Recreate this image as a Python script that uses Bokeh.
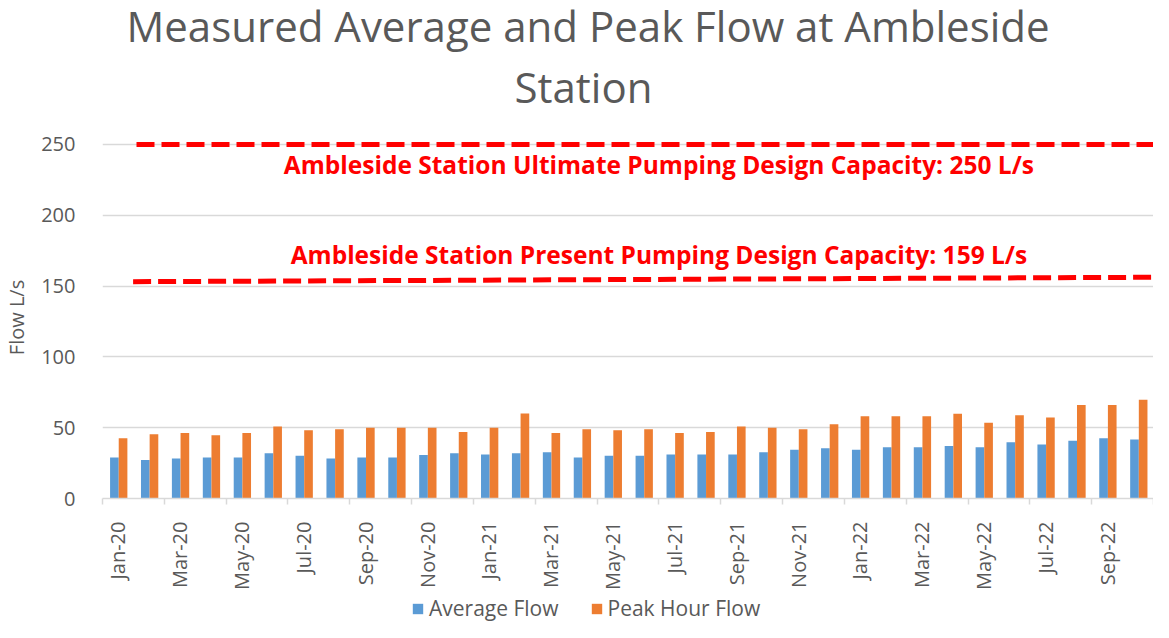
import math
from bokeh.plotting import figure
from bokeh.layouts import column
from bokeh.models import Range1d, FixedTicker, Legend, LegendItem, Label, Title
from bokeh.embed import file_html
from bokeh.resources import INLINE

months = ["Jan-20", "Feb-20", "Mar-20", "Apr-20", "May-20", "Jun-20", "Jul-20", "Aug-20",
          "Sep-20", "Oct-20", "Nov-20", "Dec-20", "Jan-21", "Feb-21", "Mar-21", "Apr-21",
          "May-21", "Jun-21", "Jul-21", "Aug-21", "Sep-21", "Oct-21", "Nov-21", "Dec-21",
          "Jan-22", "Feb-22", "Mar-22", "Apr-22", "May-22", "Jun-22", "Jul-22", "Aug-22",
          "Sep-22", "Oct-22"]
avg_flow = [28.9, 27.2, 28.2, 28.9, 28.9, 31.9, 30.1, 28.2, 28.9, 28.9, 30.8, 31.9,
            31.0, 31.9, 32.6, 28.9, 30.1, 30.1, 31.0, 31.0, 31.0, 32.6, 34.5, 35.5,
            34.5, 36.2, 36.2, 37.1, 36.2, 39.7, 38.1, 40.7, 42.6, 41.6]
peak_flow = [42.6, 45.4, 46.3, 44.7, 46.3, 50.8, 48.2, 48.9, 49.9, 49.9, 49.9, 47.0,
             49.9, 60.0, 46.3, 48.9, 48.2, 48.9, 46.3, 47.0, 50.8, 49.9, 48.9, 52.5,
             58.1, 58.1, 58.1, 59.8, 53.4, 58.8, 57.2, 66.1, 66.1, 69.7]

# capacity reference lines (x in month-index units)
ultimate_x = [0.6, 33.5]
ultimate_y = [250, 250]
present_x = [0.49, 33.5]
present_y = [153.1, 156.2]
ultimate_text = "Ambleside Station Ultimate Pumping Design Capacity: 250 L/s"
present_text = "Ambleside Station Present Pumping Design Capacity: 159 L/s"
title_lines = ["Measured Average and Peak Flow at Ambleside", "Station"]
series_names = ["Average Flow", "Peak Hour Flow"]
y_ticks = [0, 50, 100, 150, 200, 250]

FONT = "Open Sans"
GREY = "#595959"
BLUE = "#5B9BD5"
ORANGE = "#ED7D31"

n = len(months)
idx = list(range(n))

p = figure(width=1153, height=592, output_backend="svg", toolbar_location=None,
           x_range=Range1d(-0.5, n - 0.5), y_range=Range1d(0, 255.6), title=None,
           min_border_left=95, min_border_right=0, min_border_top=136, min_border_bottom=94)
p.outline_line_color = None
p.background_fill_color = "white"
p.border_fill_color = "white"

# title: second line closest to the frame, first line above it
for txt, off, stand in [(title_lines[1], 412, 43), (title_lines[0], 24, -39)]:
    p.add_layout(Title(text=txt, align="left", text_font=FONT, text_font_size="42px",
                       text_font_style="normal", text_color=GREY, offset=off,
                       standoff=stand), "above")

p.vbar(x=[i - 0.115 for i in idx], top=avg_flow, width=0.28,
       fill_color=BLUE, line_color=None)
p.vbar(x=[i + 0.165 for i in idx], top=peak_flow, width=0.28,
       fill_color=ORANGE, line_color=None)

p.line(ultimate_x, ultimate_y, line_color="#FF0000", line_width=5, line_dash="18 7")
p.line(present_x, present_y, line_color="#FF0000", line_width=5, line_dash="18 7")

for txt, yv in [(ultimate_text, 235.9), (present_text, 172.6)]:
    p.add_layout(Label(x=17.5, y=yv, text=txt, text_align="center", text_baseline="middle",
                       text_font=FONT, text_font_size="24.5px", text_font_style="bold",
                       text_color="#FF0000"))

# axes
p.yaxis.ticker = FixedTicker(ticks=y_ticks)
p.yaxis.axis_line_color = None
p.yaxis.major_tick_line_color = None
p.yaxis.minor_tick_line_color = None
p.yaxis.major_label_text_font = FONT
p.yaxis.major_label_text_font_size = "20px"
p.yaxis.major_label_text_color = GREY
p.yaxis.major_label_standoff = 21
p.yaxis.axis_label = "Flow L/s"
p.yaxis.axis_label_text_font = FONT
p.yaxis.axis_label_text_font_size = "20px"
p.yaxis.axis_label_text_font_style = "normal"
p.yaxis.axis_label_text_color = GREY
p.yaxis.axis_label_standoff = 8

p.ygrid.ticker = FixedTicker(ticks=y_ticks)
p.ygrid.grid_line_color = "#D9D9D9"
p.ygrid.grid_line_width = 1.5
p.xgrid.visible = False

p.xaxis.ticker = FixedTicker(ticks=list(range(0, n, 2)),
                             minor_ticks=[i - 0.5 for i in range(0, n + 1, 2)])
p.xaxis.major_label_overrides = {i: months[i] for i in range(0, n, 2)}
p.xaxis.major_label_orientation = math.pi / 2
p.xaxis.major_label_text_font = FONT
p.xaxis.major_label_text_font_size = "20px"
p.xaxis.major_label_text_color = GREY
p.xaxis.major_tick_line_color = None
p.xaxis.major_tick_out = 0
p.xaxis.major_tick_in = 0
p.xaxis.minor_tick_line_color = "#D9D9D9"
p.xaxis.minor_tick_out = 6
p.xaxis.minor_tick_in = 0
p.xaxis.minor_tick_line_width = 1.5
p.xaxis.axis_line_color = "#D9D9D9"
p.xaxis.axis_line_width = 1.5
p.xaxis.major_label_standoff = 17

# legend strip below the chart (zero-height swatch glyphs, only the legend shows)
leg = figure(width=1153, height=30, output_backend="svg", toolbar_location=None,
             x_range=Range1d(0, 1), y_range=Range1d(0, 1), min_border=0,
             x_axis_location=None, y_axis_location=None)
leg.grid.visible = False
leg.outline_line_color = None
leg.background_fill_color = "white"
leg.border_fill_color = "white"
la = leg.vbar(x=[0.5], top=[0], width=0.01, fill_color=BLUE, line_color=None)
lp = leg.vbar(x=[0.5], top=[0], width=0.01, fill_color=ORANGE, line_color=None)
legend = Legend(items=[LegendItem(label=series_names[0], renderers=[la]),
                       LegendItem(label=series_names[1], renderers=[lp])],
                orientation="horizontal", location=(309, 0),
                label_text_font=FONT, label_text_font_size="21px", label_text_color=GREY,
                glyph_width=13, glyph_height=13, label_standoff=5, spacing=31,
                border_line_color=None, background_fill_alpha=0, padding=0, margin=0)
leg.add_layout(legend, "center")

open("out.html", "w").write(file_html(column(p, leg), INLINE))
